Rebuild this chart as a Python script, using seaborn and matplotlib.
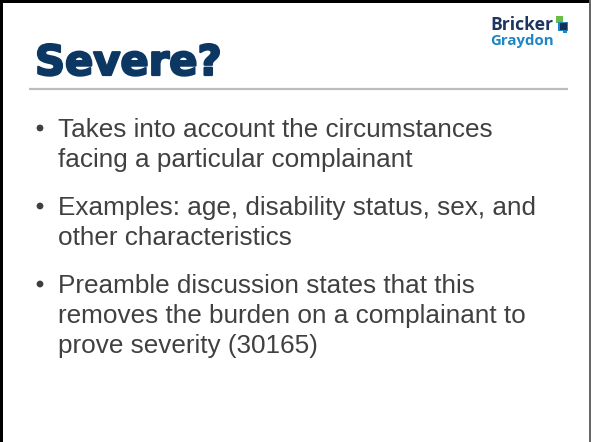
import matplotlib
matplotlib.use("Agg")
import matplotlib.pyplot as plt
import matplotlib.patheffects as pe
import seaborn as sns
from matplotlib.patches import Rectangle, Circle

sns.set_theme(style="white")

title = "Severe?"
logo_words = ["Bricker", "Graydon"]
bullets = [
    ["Takes into account the circumstances", "facing a particular complainant"],
    ["Examples: age, disability status, sex, and", "other characteristics"],
    ["Preamble discussion states that this",
     "removes the burden on a complainant to",
     "prove severity (30165)"],
]

W, H = 591, 442
fig = plt.figure(figsize=(W / 100, H / 100), dpi=100)
ax = fig.add_axes([0, 0, 1, 1])
ax.set_xlim(0, W)
ax.set_ylim(H, 0)
ax.axis("off")

# slide border
ax.add_patch(Rectangle((0, 0), 3, H, color="black", lw=0))
ax.add_patch(Rectangle((0, 0), W, 3, color="black", lw=0))
ax.add_patch(Rectangle((589, 0), 1.5, H, color="#666666", lw=0))

# title
ax.text(35, 75, title, fontsize=30, fontweight="bold", family="DejaVu Sans",
        color="#0d3763", va="baseline", ha="left",
        path_effects=[pe.withStroke(linewidth=1.6, foreground="#0d3763")])
ax.plot([29, 568], [88.5, 88.5], color="#bdbdbd", lw=1.6, solid_capstyle="butt")

# logo
ax.text(490, 30, logo_words[0], fontsize=12.6, fontweight="bold", family="Open Sans",
        color="#1d3560", va="baseline", ha="left")
ax.text(490, 45.5, logo_words[1], fontsize=10.8, fontweight="bold", family="Open Sans",
        color="#1e86c6", va="baseline", ha="left")
ax.add_patch(Rectangle((556, 16), 7, 7, color="#6cbd45", lw=0))
ax.add_patch(Rectangle((558, 21.5), 10, 9, color="#1e86c6", lw=0))
ax.add_patch(Rectangle((559.5, 22.5), 7.5, 7, color="#152f57", lw=0))
ax.add_patch(Rectangle((563, 30), 4, 2.5, color="#1e86c6", lw=0))

# bullets
y = 137
line_gap = 30
para_gap = 48
for para in bullets:
    ax.add_patch(Circle((40, y - 9), 3.4, color="#404040", lw=0))
    for i, line in enumerate(para):
        ax.text(58, y, line, fontsize=18.8, family="Liberation Sans",
                color="#404040", va="baseline", ha="left")
        if i < len(para) - 1:
            y += line_gap
    y += para_gap

fig.savefig("out.png", dpi=100, facecolor="white")
